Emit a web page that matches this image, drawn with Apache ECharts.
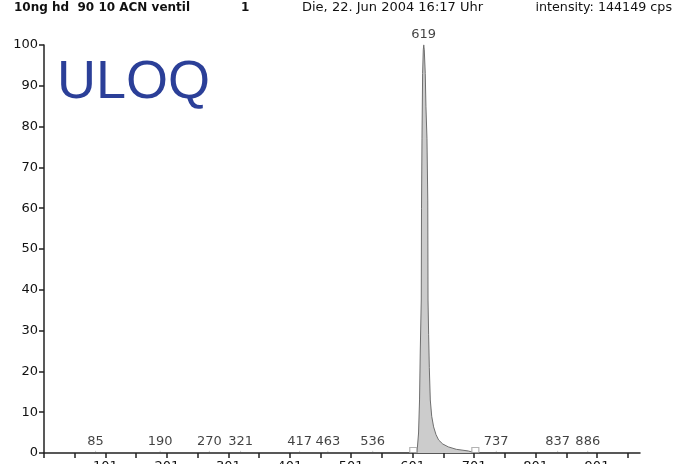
<!DOCTYPE html>
<html>
<head>
<meta charset="utf-8">
<script src="https://cdn.jsdelivr.net/npm/echarts@6/dist/echarts.min.js"></script>
<style>
  html, body { margin: 0; padding: 0; background: #fff; }
  #chart { width: 675px; height: 464px; }
</style>
</head>
<body>
<div id="chart"></div>
<script>
// Profile trace of the main signal (m/z, relative intensity %)
const profileMz  = [602, 608, 610.6, 612.2, 613.4, 615, 615.4, 616.2, 617.2, 618.3, 619, 619.9, 621.5, 622.6, 624.3, 625.6, 626, 627, 628.1, 629.7, 632, 635.1, 639, 643.2, 650, 659, 672, 691.5, 703];
const profileInt = [0, 0, 4.9, 13, 25, 37.5, 60, 77, 93, 98.8, 100, 98.8, 93, 85, 77, 62, 37.5, 29, 21, 13, 9, 6.4, 4.5, 3.2, 2.2, 1.5, 0.9, 0.5, 0];

// Centroided peaks with their labels
const peakMz  = [85, 190, 270, 321, 417, 463, 536, 619, 737, 837, 886];
const peakInt = [0.4, 0.4, 0.4, 0.4, 0.4, 0.4, 0.4, 100, 0.4, 0.4, 0.4];

// Integration window boundaries
const regionMz = [602, 703];

// Axis ticks and labels
const xTickValues  = [1, 51, 101, 151, 201, 251, 301, 351, 401, 451, 501, 551, 601, 651, 701, 751, 801, 851, 901, 951];
const xLabelValues = [101, 201, 301, 401, 501, 601, 701, 801, 901];
const yMin = 0, yMax = 100, yStep = 10;

// Header texts
const sampleName = '10ng hd  90 10 ACN ventil';
const scanNo = '1';
const dateText = 'Die, 22. Jun 2004 16:17 Uhr';
const intensityText = 'intensity: 144149 cps';
const tagText = 'ULOQ';

const FONT = '"DejaVu Sans", sans-serif';
const AXIS_COLOR = '#222';

const chart = echarts.init(document.getElementById('chart'), null, { renderer: 'canvas' });

chart.setOption({
  animation: false,
  backgroundColor: '#fff',
  grid: { left: 44, right: 35, top: 45, bottom: 11, containLabel: false, outerBoundsMode: 'none' },
  graphic: [
    { type: 'text', left: 14, top: 2, style: { text: sampleName, font: 'bold 12px ' + FONT, fill: '#111' } },
    { type: 'text', left: 241, top: 2, style: { text: scanNo, font: 'bold 12px ' + FONT, fill: '#111' } },
    { type: 'text', left: 302, top: 1, style: { text: dateText, font: '13px ' + FONT, fill: '#111' } },
    { type: 'text', right: 3, top: 1, style: { text: intensityText, font: '12.7px ' + FONT, fill: '#111' } },
    { type: 'text', left: 57, top: 56, style: { text: tagText, font: '54px "Liberation Sans", Arial, sans-serif', fill: '#2b3f98' } }
  ],
  xAxis: {
    type: 'value',
    min: 1,
    max: 971,
    axisLine: { show: true, lineStyle: { color: AXIS_COLOR, width: 1.5 } },
    axisTick: { show: true, length: 5, customValues: xTickValues, lineStyle: { color: AXIS_COLOR, width: 1.5 } },
    axisLabel: { customValues: xLabelValues, margin: 7, fontSize: 13, fontFamily: FONT, color: '#111' },
    splitLine: { show: false }
  },
  yAxis: {
    type: 'value',
    min: yMin,
    max: yMax,
    interval: yStep,
    axisLine: { show: true, lineStyle: { color: AXIS_COLOR, width: 1.5 } },
    axisTick: { show: true, length: 5, lineStyle: { color: AXIS_COLOR, width: 1.5 } },
    axisLabel: { margin: 6, fontSize: 13, fontFamily: FONT, color: '#111' },
    splitLine: { show: false }
  },
  series: [
    {
      type: 'line',
      data: profileMz.map((m, i) => [m, profileInt[i]]),
      showSymbol: false,
      silent: true,
      lineStyle: { color: '#6e6e6e', width: 1 },
      areaStyle: { color: '#cccccc', opacity: 1 },
      z: 2
    },
    {
      type: 'scatter',
      data: regionMz.map(m => [m, 0]),
      symbol: 'rect',
      symbolSize: [7, 5],
      symbolOffset: [0, -3],
      silent: true,
      itemStyle: { color: '#fff', borderColor: '#a0a0a0', borderWidth: 1 },
      z: 3
    },
    {
      type: 'scatter',
      data: peakMz.map((m, i) => [m, peakInt[i]]),
      symbolSize: 1,
      silent: true,
      itemStyle: { color: '#999' },
      label: {
        show: true,
        position: 'top',
        distance: 3,
        formatter: p => String(p.value[0]),
        fontSize: 13,
        fontFamily: FONT,
        color: '#111'
      },
      z: 4
    }
  ]
});
</script>
</body>
</html>
